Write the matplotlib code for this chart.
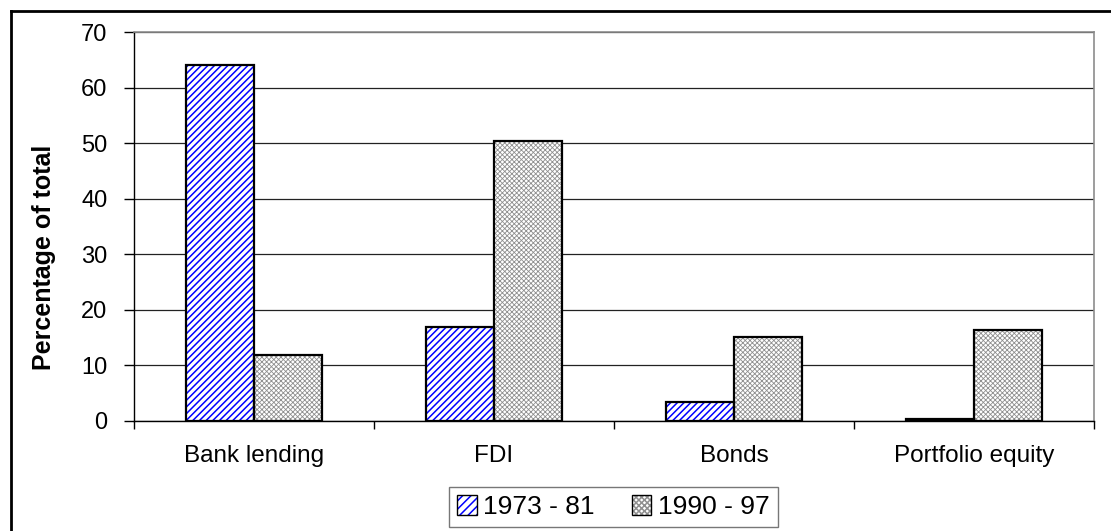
import matplotlib
matplotlib.use("Agg")
import matplotlib.pyplot as plt
from matplotlib.lines import Line2D
from matplotlib.patches import Patch
from matplotlib.legend_handler import HandlerTuple
import numpy as np

plt.rcParams['font.family'] = ['Liberation Sans', 'DejaVu Sans']
plt.rcParams['hatch.linewidth'] = 1.1

categories = ["Bank lending", "FDI", "Bonds", "Portfolio equity"]
period_labels = ["1973 - 81", "1990 - 97"]
share_1973_81 = [64.0, 16.9, 3.4, 0.4]
share_1990_97 = [11.9, 50.4, 15.2, 16.3]

fig = plt.figure(figsize=(11.11, 5.31), dpi=100)
ax = fig.add_axes([0.1206, 0.2072, 0.8641, 0.7325])

x = np.arange(len(categories))
w = 0.285


def thin_hatch(patches, lw):
    for p in patches:
        if hasattr(p, "set_hatch_linewidth"):
            p.set_hatch_linewidth(lw)


# blue diagonal stripes, then a black outline on top
ax.bar(x - w / 2, share_1973_81, w, color="white", edgecolor="#0000ff",
       hatch="/////", linewidth=0, zorder=3)
ax.bar(x - w / 2, share_1973_81, w, fill=False, edgecolor="black",
       linewidth=1.6, zorder=4)

# fine grey texture for the later period
grey = ax.bar(x + w / 2, share_1990_97, w, color="white", edgecolor="#8f8f8f",
              hatch="xxxxxxx", linewidth=0, zorder=3)
thin_hatch(grey, 0.6)
ax.bar(x + w / 2, share_1990_97, w, fill=False, edgecolor="black",
       linewidth=1.6, zorder=4)

ax.set_xlim(-0.5, len(categories) - 0.5)
ax.set_ylim(0, 70)
ax.set_yticks(range(0, 71, 10))
ax.yaxis.grid(True, color="#222222", linewidth=0.9, zorder=0)
ax.set_axisbelow(True)

ax.set_xticks(x)
ax.set_xticklabels(categories, fontsize=17.5)
ax.set_xticks(np.arange(-0.5, len(categories), 1.0), minor=True)
ax.tick_params(axis="x", which="major", length=0, pad=17)
ax.tick_params(axis="x", which="minor", length=6, width=1, direction="out")
ax.tick_params(axis="y", length=7, width=1, pad=12, labelsize=17)

for side in ("top", "right"):
    ax.spines[side].set_color("#8c8c8c")
    ax.spines[side].set_linewidth(1.2)
ax.spines["left"].set_color("black")
ax.spines["bottom"].set_color("black")
ax.spines["left"].set_linewidth(1.0)
ax.spines["bottom"].set_linewidth(1.0)

ax.set_ylabel("Percentage of total", fontsize=18, fontweight="bold")
ax.yaxis.set_label_coords(-0.081, 0.42)

# legend swatches: hatch layer plus a black outline
blue_sw = Patch(facecolor="white", edgecolor="#0000ff", hatch="////", linewidth=0)
grey_sw = Patch(facecolor="white", edgecolor="#8f8f8f", hatch="xxxxxx", linewidth=0)
thin_hatch([grey_sw], 0.6)
outline = dict(fill=False, edgecolor="black", linewidth=1.0)
handles = [(blue_sw, Patch(**outline)), (grey_sw, Patch(**outline))]
leg = fig.legend(handles, period_labels, loc="center", bbox_to_anchor=(0.552, 0.045),
                 ncol=2, fontsize=19, frameon=True, fancybox=False,
                 handler_map={tuple: HandlerTuple(ndivide=1)},
                 handlelength=0.75, handleheight=0.75, handletextpad=0.25,
                 columnspacing=1.4, borderpad=0.3, borderaxespad=0)
leg.get_frame().set_edgecolor("#555555")
leg.get_frame().set_linewidth(1.0)

# outer chart border (left and top edges)
fig.add_artist(Line2D([0.0099, 0.0099], [0.0, 0.9793], color="black", linewidth=2.0))
fig.add_artist(Line2D([0.0099, 1.0], [0.9793, 0.9793], color="black", linewidth=2.0))

fig.savefig("out.png", dpi=100)
